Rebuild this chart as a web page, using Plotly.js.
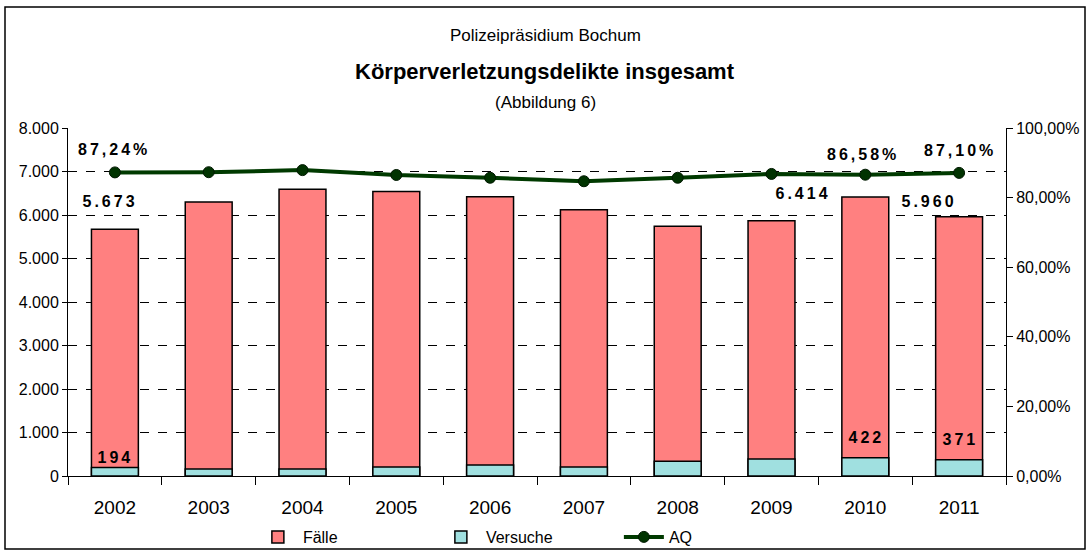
<!DOCTYPE html>
<html>
<head>
<meta charset="utf-8">
<script src="https://cdn.plot.ly/plotly-3.0.1.min.js"></script>
<style>
  body { margin: 0; background: #fff; }
  #grafico { width: 1090px; height: 552px; }
  /* Wertebeschriftungen gesperrt wie im Original */
  #grafico .annotation[data-index="0"] text, #grafico .annotation[data-index="1"] text,
  #grafico .annotation[data-index="2"] text, #grafico .annotation[data-index="3"] text,
  #grafico .annotation[data-index="4"] text, #grafico .annotation[data-index="5"] text,
  #grafico .annotation[data-index="6"] text, #grafico .annotation[data-index="7"] text,
  #grafico .annotation[data-index="8"] text { letter-spacing: 3px; }
</style>
</head>
<body>
<div id="grafico"></div>
<script>
// Daten
const jahre = ["2002", "2003", "2004", "2005", "2006", "2007", "2008", "2009", "2010", "2011"];
const faelle = [5673, 6300, 6590, 6540, 6420, 6120, 5740, 5870, 6414, 5960];
const versuche = [194, 160, 160, 205, 255, 205, 340, 390, 422, 371];
const aq = [0.8724, 0.8730, 0.8790, 0.8650, 0.8570, 0.8470, 0.8570, 0.8680, 0.8658, 0.8710];

const schrift = "Liberation Sans, Arial, sans-serif";

const spuren = [
    {
        x: jahre, y: faelle, type: "bar", name: "Fälle",
        marker: { color: "#FF8080", line: { color: "#000", width: 1.5 } }
    },
    {
        x: jahre, y: versuche, type: "bar", name: "Versuche",
        marker: { color: "#A0E0E0", line: { color: "#000", width: 1.5 } }
    },
    {
        x: jahre, y: aq, type: "scatter", mode: "lines+markers", name: "AQ",
        yaxis: "y2",
        line: { color: "#003A00", width: 4 },
        marker: { color: "#003300", size: 11, line: { color: "#001800", width: 1 } }
    }
];

// Beschriftungen an ausgewählten Punkten (x = Index der Kategorie)
const fmtZahl = v => v.toString().replace(/\B(?=(\d{3})+(?!\d))/g, ".");
const fmtProz = v => (v * 100).toFixed(2).replace(".", ",") + "%";
const labelFont = { family: schrift, size: 16, color: "#000", weight: "bold" };

const annos = [
    { i: 0, y: aq[0], yref: "y2", text: fmtProz(aq[0]), yshift: 23, xshift: -1 },
    { i: 8, y: aq[8], yref: "y2", text: fmtProz(aq[8]), yshift: 20, xshift: -2 },
    { i: 9, y: aq[9], yref: "y2", text: fmtProz(aq[9]), yshift: 22, xshift: 1 },
    { i: 0, y: faelle[0], yref: "y", text: fmtZahl(faelle[0]), yshift: 28, xshift: -5 },
    { i: 8, y: faelle[8], yref: "y", text: fmtZahl(faelle[8]), yshift: 3, xshift: -62 },
    { i: 9, y: faelle[9], yref: "y", text: fmtZahl(faelle[9]), yshift: 15, xshift: -30 },
    { i: 0, y: versuche[0], yref: "y", text: String(versuche[0]), yshift: 10, xshift: 1 },
    { i: 8, y: versuche[8], yref: "y", text: String(versuche[8]), yshift: 20, xshift: 1 },
    { i: 9, y: versuche[9], yref: "y", text: String(versuche[9]), yshift: 20, xshift: 1 }
].map(a => ({
    xref: "x", x: a.i, y: a.y, yref: a.yref, text: a.text,
    xshift: a.xshift, yshift: a.yshift, showarrow: false, font: labelFont
}));

// Titelzeilen
annos.push(
    { xref: "paper", yref: "paper", x: 0.509, y: 1.267, yanchor: "middle", showarrow: false,
      text: "Polizeipräsidium Bochum", font: { family: schrift, size: 17, color: "#000" } },
    { xref: "paper", yref: "paper", x: 0.509, y: 1.161, yanchor: "middle", showarrow: false,
      text: "<b>Körperverletzungsdelikte insgesamt</b>", font: { family: schrift, size: 22, color: "#000" } },
    { xref: "paper", yref: "paper", x: 0.509, y: 1.072, yanchor: "middle", showarrow: false,
      text: "(Abbildung 6)", font: { family: schrift, size: 17, color: "#000" } }
);

const layout = {
    width: 1090, height: 552,
    margin: { l: 68, r: 84, t: 128, b: 76 },
    paper_bgcolor: "#fff", plot_bgcolor: "#fff",
    separators: ",.",
    barmode: "overlay",
    bargap: 0.5,
    font: { family: schrift, size: 16, color: "#000" },
    xaxis: {
        type: "category", range: [-0.5, 9.5],
        showline: true, linecolor: "#000", linewidth: 1,
        ticks: "outside", tickson: "boundaries", ticklen: 8, tickcolor: "#000",
        tickfont: { size: 19 }, tickangle: 0, automargin: false,
        ticklabelstandoff: 14,
        showgrid: false
    },
    yaxis: {
        range: [0, 8000], dtick: 1000, tickformat: ",d",
        showline: true, linecolor: "#000", linewidth: 1,
        ticks: "outside", ticklen: 5, tickcolor: "#000",
        showgrid: true, gridcolor: "#000", griddash: "dash", gridwidth: 1,
        zeroline: false, automargin: false,
        tickfont: { size: 16 }
    },
    yaxis2: {
        overlaying: "y", side: "right",
        range: [0, 1], dtick: 0.2, tickformat: ".2%",
        showline: true, linecolor: "#000", linewidth: 1,
        ticks: "outside", ticklen: 6, tickcolor: "#000",
        showgrid: false, zeroline: false, automargin: false,
        tickfont: { size: 16 }
    },
    showlegend: true,
    legend: {
        orientation: "h", xref: "container", yref: "container",
        x: 0.232, xanchor: "left", y: 0.058, yanchor: "top",
        bgcolor: "rgba(0,0,0,0)",
        font: { size: 16 }, itemwidth: 40, entrywidth: 128,
        traceorder: "normal"
    },
    annotations: annos,
    shapes: [{
        type: "rect", xref: "paper", yref: "paper",
        x0: (5 - 68) / 938, x1: (1085 - 68) / 938,
        y0: (476 - 549) / 348, y1: (476 - 7) / 348,
        line: { color: "#000", width: 1.5 }, fillcolor: "rgba(0,0,0,0)"
    }]
};

Plotly.newPlot("grafico", spuren, layout, { displayModeBar: false, staticPlot: true });
</script>
</body>
</html>
